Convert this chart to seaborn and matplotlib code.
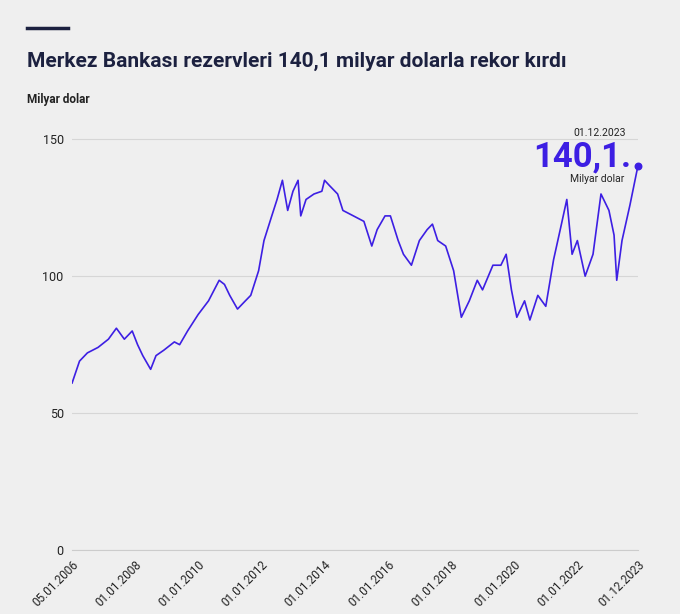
import matplotlib
matplotlib.use("Agg")
import matplotlib.pyplot as plt
import seaborn as sns
import pandas as pd

dates = ["2006-01-05","2006-04","2006-07","2006-11","2007-03","2007-06","2007-09","2007-12",
         "2008-02","2008-04","2008-07","2008-09","2008-12","2009-04","2009-06","2009-09",
         "2010-01","2010-05","2010-09","2010-11","2011-01","2011-04","2011-07","2011-09","2011-12",
         "2012-02","2012-05","2012-07","2012-09","2012-11","2013-01","2013-03","2013-04","2013-06",
         "2013-09","2013-12","2014-01","2014-03","2014-06","2014-08","2014-12","2015-04","2015-07",
         "2015-09","2015-12","2016-02","2016-05","2016-07","2016-10","2017-01","2017-04","2017-06",
         "2017-08","2017-11","2018-02","2018-05","2018-08","2018-11","2019-01","2019-05","2019-08",
         "2019-10","2019-12","2020-02","2020-05","2020-07","2020-10","2021-01","2021-04","2021-07",
         "2021-09","2021-11","2022-01","2022-04","2022-07","2022-10","2023-01","2023-03","2023-04",
         "2023-06","2023-09","2023-12-01"]
reserves = [61,69,72,74,77,81,77,80,
            75,71,66,71,73,76,75,80,
            86,91,98.5,97,93,88,91,93,102,
            113,122,128,135,124,131,135,122,128,
            130,131,135,133,130,124,122,120,111,
            117,122,122,113,108,104,113,117,119,
            113,111,102,85,91,98.5,95,104,104,
            108,95,85,91,84,93,89,106,119,
            128,108,113,100,108,130,124,115,98.5,
            113,126,140.1]
tick_dates = ["2006-01-05","2008-01-01","2010-01-01","2012-01-01","2014-01-01","2016-01-01",
              "2018-01-01","2020-01-01","2022-01-01","2023-12-01"]
y_ticks = [0, 50, 100, 150]

BG = "#efefef"
LINE = "#3d1fe3"
plt.rcParams["font.family"] = "Roboto"
df = pd.DataFrame({"date": pd.to_datetime(dates, format="mixed"), "value": reserves})

fig = plt.figure(figsize=(6.8, 6.14), dpi=100, facecolor=BG)
ax = fig.add_axes([0.106, 0.104, 0.832, 0.705], facecolor=BG)
sns.lineplot(data=df, x="date", y="value", ax=ax, color=LINE, linewidth=1.2)
ax.scatter(df["date"].iloc[-1], df["value"].iloc[-1], color=LINE, s=22, zorder=5, clip_on=False)

td = pd.to_datetime(tick_dates)
ax.set_xlim(td[0], td[-1])
ax.set_xticks(td)
ax.set_xticklabels([d.strftime("%d.%m.%Y") for d in td], rotation=45, ha="right",
                   rotation_mode="anchor", fontsize=8.5, color="#222")
ax.set_ylim(0, 158)
ax.set_yticks(y_ticks)
ax.set_yticklabels([str(v) for v in y_ticks], fontsize=9, color="#222")
ax.tick_params(axis="both", length=0, pad=6)
ax.grid(axis="y", color="#d6d6d6", linewidth=0.8)
ax.grid(axis="x", visible=False)
for s in ["top", "right", "left"]:
    ax.spines[s].set_visible(False)
ax.spines["bottom"].set_color("#cccccc")
ax.set_xlabel(""); ax.set_ylabel("")

fig.add_artist(plt.Line2D([0.04, 0.10], [0.955, 0.955], color="#1c2140", linewidth=2.5))
fig.text(0.04, 0.9, "Merkez Bankası rezervleri 140,1 milyar dolarla rekor kırdı",
         fontsize=15, fontweight="bold", color="#1c2140", va="center")
fig.text(0.04, 0.838, "Milyar dolar", fontsize=8.5, fontweight="bold", color="#222", va="center")

fig.text(0.921, 0.783, "01.12.2023", fontsize=7.5, color="#222", ha="right", va="center")
fig.text(0.928, 0.745, "140,1.", fontsize=25, fontweight="bold", color=LINE,
         ha="right", va="center")
fig.text(0.918, 0.708, "Milyar dolar", fontsize=7.5, color="#222", ha="right", va="center")

fig.savefig("out.png", dpi=100, facecolor=BG)
